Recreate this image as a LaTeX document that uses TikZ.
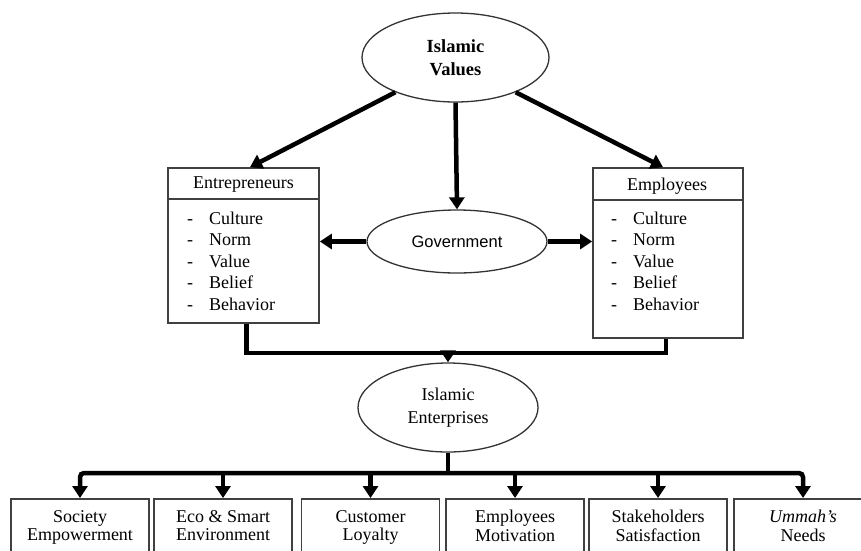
\documentclass[tikz,border=0pt]{standalone}
\usepackage{fontspec}
\setmainfont{Liberation Serif}
\newfontfamily\govfont{Liberation Sans}
\usetikzlibrary{arrows.meta,shapes.geometric}

\begin{document}
\begin{tikzpicture}[x=1pt,y=-1pt,
  every node/.style={font=\fontsize{18}{18}\selectfont, text=black},
  oval/.style={ellipse, draw=black!80, line width=1.3pt, inner sep=0pt, align=center},
  card/.style={draw=black!75, line width=1.7pt, fill=white, inner sep=0pt},
  outbox/.style={card, anchor=north, minimum width=138pt, minimum height=80pt},
  outtext/.style={anchor=north, align=center, inner sep=0pt, font=\fontsize{18}{18.5}\selectfont},
  link/.style={line width=4.5pt, draw=black},
  arr/.style={link, -{Triangle[width=15pt,length=12pt]}},
  itemlist/.style={anchor=west, inner sep=0pt, align=left, font=\fontsize{18}{21.5}\selectfont},
]
\useasboundingbox (0,0) rectangle (861,550);
\fill[white] (0,0) rectangle (861,550);
\clip (0,0) rectangle (861,550);

% ---- ovals ----
\node[oval, minimum width=187pt, minimum height=89pt,
      font=\fontsize{18.5}{23}\selectfont\bfseries] (iv) at (455.5,57.5) {Islamic\\Values};
\node[oval, minimum width=180pt, minimum height=63pt,
      font=\govfont\fontsize{16.5}{18}\selectfont] (gov) at (457,241.5) {Government};
\node[oval, minimum width=180pt, minimum height=89pt,
      font=\fontsize{18}{23}\selectfont] (ie) at (448,407.5) {Islamic\\Enterprises};

% ---- actor boxes ----
\node[card, minimum width=151pt, minimum height=155pt] (entr) at (243.5,245.5) {};
\draw[draw=black!75, line width=1.7pt] ([yshift=-32pt]entr.north west) -- ([yshift=-32pt]entr.north east);
\node (entrhead) at (243.5,185) {Entrepreneurs};
\node[itemlist] (entrlist) at (187,263) {%
  \begin{tabular}{@{}l@{\hspace{16pt}}l@{}}
  - & Culture\\ - & Norm\\ - & Value\\ - & Belief\\ - & Behavior
  \end{tabular}};

\node[card, minimum width=150pt, minimum height=170pt] (empl) at (668,253) {};
\draw[draw=black!75, line width=1.7pt] ([yshift=-33pt]empl.north west) -- ([yshift=-33pt]empl.north east);
\node (emplhead) at (667,186) {Employees};
\node[itemlist] (empllist) at (611,263) {%
  \begin{tabular}{@{}l@{\hspace{16pt}}l@{}}
  - & Culture\\ - & Norm\\ - & Value\\ - & Belief\\ - & Behavior
  \end{tabular}};

% ---- outcome boxes ----
\node[outbox] (b1) at (80,498) {};
\node[outbox] (b2) at (223,498) {};
\node[outbox] (b3) at (370.5,498) {};
\node[outbox] (b4) at (515,498) {};
\node[outbox] (b5) at (658,498) {};
\node[outbox] (b6) at (803,498) {};
\node[outtext] (t1) at (80,510) {Society\\Empowerment};
\node[outtext] (t2) at (223,510) {Eco \& Smart\\Environment};
\node[outtext] (t3) at (370.5,510) {Customer\\Loyalty};
\node[outtext] (t4) at (515,510) {Employees\\Motivation};
\node[outtext] (t5) at (658,510) {Stakeholders\\Satisfaction};
\node[outtext] (t6) at (803,510) {\textit{Ummah's}\\Needs};

% ---- connectors ----
\draw[arr] (iv.210) -- ([xshift=6.5pt]entr.north);
\draw[arr] (iv.330) -- ([xshift=-5pt]empl.north);
\draw[arr] (iv.south) -- (gov.north);
\draw[arr] (gov.west) -- (gov.west -| entr.east);
\draw[arr] (gov.east) -- (gov.east -| empl.west);

\coordinate (join) at (448,353);
\draw[link] ([xshift=3pt]entr.south) |- (join) -| ([xshift=-2pt]empl.south);
\draw[arr] (join) -- (ie.north);

\coordinate (bus) at (448,473);
\draw[link] (ie.south) -- (bus);
\draw[arr, rounded corners=4pt] (bus) -| (b1.north);
\draw[arr, rounded corners=4pt] (bus) -| (b6.north);
\foreach \k in {2,...,5} {
  \draw[arr] (bus -| b\k.north) -- (b\k.north);
}
\end{tikzpicture}
\end{document}
